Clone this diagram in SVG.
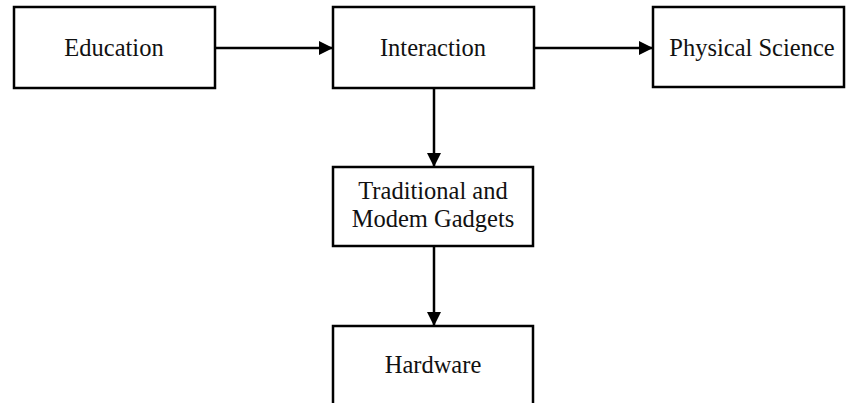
<svg xmlns="http://www.w3.org/2000/svg" width="846" height="403" viewBox="0 0 846 403">
  <style>
    .box { fill: #ffffff; stroke: #000000; stroke-width: 2.5; }
    .label { font-family: "Liberation Serif", "Times New Roman", serif; font-size: 24.5px; fill: #111111; text-anchor: middle; }
    .edge { stroke: #000000; stroke-width: 2.5; fill: none; marker-end: url(#arrow); }
  </style>
  <defs>
    <marker id="arrow" markerUnits="userSpaceOnUse" markerWidth="14" markerHeight="14" refX="14" refY="7" orient="auto">
      <path d="M0,0 L14,7 L0,14 Z" fill="#000000"/>
    </marker>
  </defs>
  <rect width="846" height="403" fill="#ffffff"/>

  <g id="connectors">
    <line class="edge" x1="215" y1="48" x2="333" y2="48"/>
    <line class="edge" x1="534" y1="48" x2="653" y2="48"/>
    <line class="edge" x1="434" y1="88" x2="434" y2="167"/>
    <line class="edge" x1="434" y1="246" x2="434" y2="326"/>
  </g>

  <g id="education">
    <rect class="box" x="14" y="7" width="201" height="81"/>
    <text class="label" x="114" y="56">Education</text>
  </g>

  <g id="interaction">
    <rect class="box" x="333" y="7" width="201" height="81"/>
    <text class="label" x="433" y="56">Interaction</text>
  </g>

  <g id="physical-science">
    <rect class="box" x="653" y="7" width="191" height="80"/>
    <text class="label" x="752" y="56">Physical Science</text>
  </g>

  <g id="gadgets">
    <rect class="box" x="333" y="167" width="200" height="79"/>
    <text class="label" x="433" y="199">Traditional and</text>
    <text class="label" x="433" y="227">Modem Gadgets</text>
  </g>

  <g id="hardware">
    <rect class="box" x="333" y="326" width="200" height="82"/>
    <text class="label" x="433" y="373">Hardware</text>
  </g>
</svg>
